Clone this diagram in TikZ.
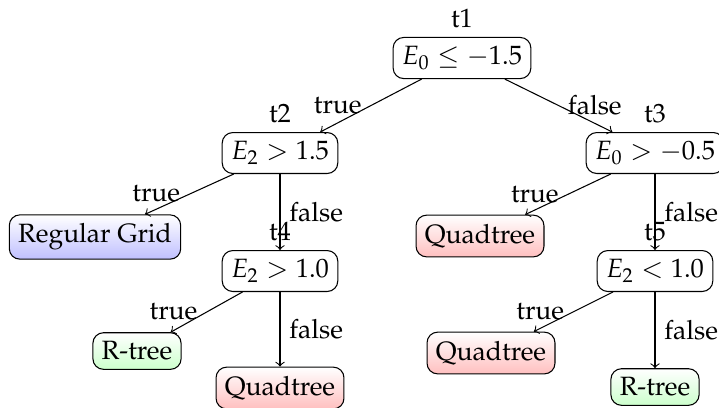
\documentclass[tikz,border=0pt]{standalone}
\usepackage[T1]{fontenc}
\usepackage{mathpazo}
\begin{document}
\begin{tikzpicture}[x=0.3774pt,y=-0.3774pt,
  test/.style={draw, rounded corners=4pt},
  leaf/.style={draw, rounded corners=4pt, top color=white, bottom color=#1},
  edge/.style={->}]
\useasboundingbox (0,0) rectangle (719,407);
\node[test, label={above:t1}] (t1) at (462,58) {$E_0 \leq -1.5$};
\node[test, label={above:t2}] (t2) at (280,153) {$E_2 > 1.5$};
\node[test, label={above:t3}] (t3) at (655,153) {$E_0 > -0.5$};
\node[leaf=blue!25] (rg) at (95,237) {Regular Grid};
\node[leaf=red!25] (q1) at (480,236) {Quadtree};
\node[test, label={above:t4}] (t4) at (280,271) {$E_2 > 1.0$};
\node[test, label={above:t5}] (t5) at (655,271) {$E_2 < 1.0$};
\node[leaf=green!20] (r1) at (137,351) {R-tree};
\node[leaf=red!25] (q2) at (280,388) {Quadtree};
\node[leaf=red!25] (q3) at (491,353) {Quadtree};
\node[leaf=green!20] (r2) at (655,387) {R-tree};
\draw[edge] (t1) -- (t2) node[midway, left] {true};
\draw[edge] (t1) -- (t3) node[midway, right] {false};
\draw[edge] (t2) -- (rg) node[midway, left] {true};
\draw[edge] (t2) -- (t4) node[midway, right] {false};
\draw[edge] (t3) -- (q1) node[midway, left] {true};
\draw[edge] (t3) -- (t5) node[midway, right] {false};
\draw[edge] (t4) -- (r1) node[midway, left] {true};
\draw[edge] (t4) -- (q2) node[midway, right] {false};
\draw[edge] (t5) -- (q3) node[midway, left] {true};
\draw[edge] (t5) -- (r2) node[midway, right] {false};
\end{tikzpicture}
\end{document}
